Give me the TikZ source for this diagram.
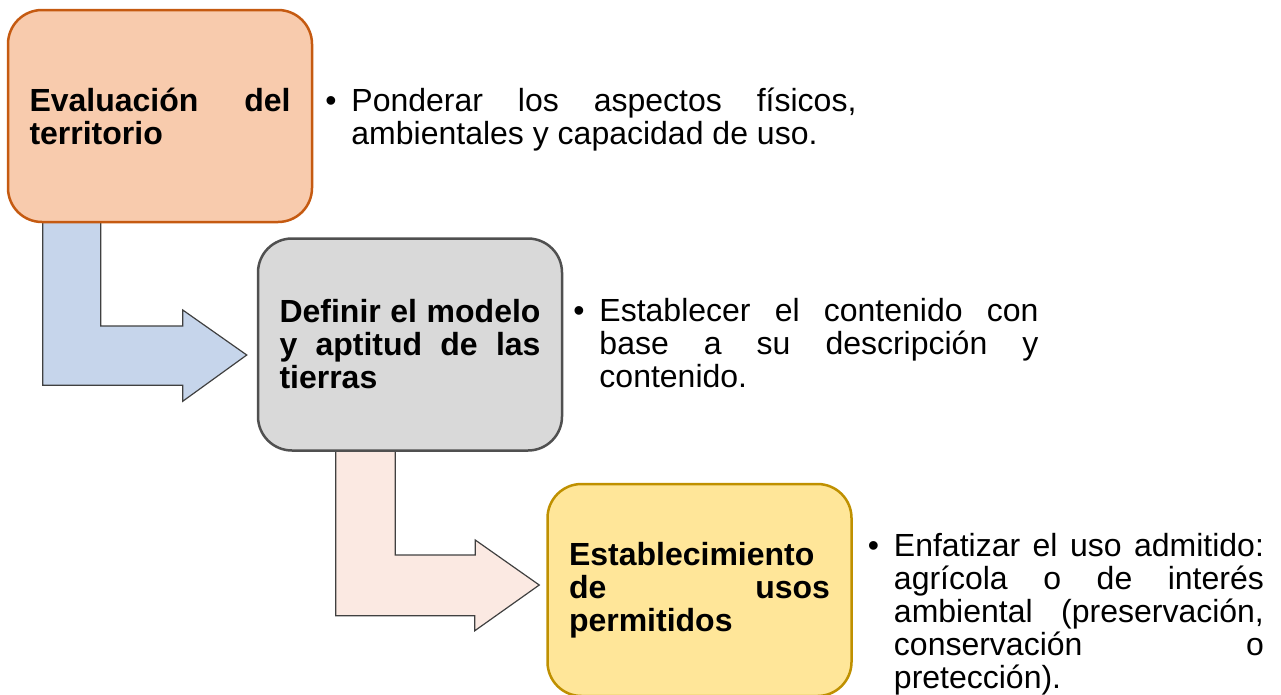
\documentclass[tikz,border=0pt]{standalone}
\usepackage{fontspec}
\setmainfont{Liberation Sans}
\usepackage{xcolor}
\usepackage{tikz}
\usetikzlibrary{calc,positioning,backgrounds}

\definecolor{peachfill}{HTML}{F8CBAD}
\definecolor{peachline}{HTML}{C55A11}
\definecolor{grayfill}{HTML}{D9D9D9}
\definecolor{grayline}{HTML}{505050}
\definecolor{goldfill}{HTML}{FFE699}
\definecolor{goldline}{HTML}{BF9000}
\definecolor{arrowblue}{HTML}{C6D5EB}
\definecolor{arrowpink}{HTML}{FBE9E2}
\definecolor{arrowline}{HTML}{404040}

\tolerance=10000
\hyphenpenalty=10000
\newcommand{\bulletlead}{\noindent\hangindent=26pt\hangafter=1\makebox[26pt][l]{\textbullet}}

\begin{document}
\begin{tikzpicture}[x=1pt,y=-1pt,
    stagebox/.style={rounded corners=34pt, line width=2.5pt, minimum height=212pt,
        text width=261pt, inner xsep=21.5pt, align=justify,
        font=\fontsize{32}{33}\selectfont\bfseries},
    notetext/.style={inner sep=0pt, anchor=west, align=justify,
        font=\fontsize{32}{33}\selectfont},
    bentarrow/.style={draw=arrowline, line width=1.2pt, line join=miter}]
    \useasboundingbox (0,0) rectangle (1281,694);

    % stages
    \node[stagebox, fill=peachfill, draw=peachline] (eval) at (160,116)
        {Evaluación del\linebreak territorio};
    \node[stagebox, fill=grayfill, draw=grayline] (model) at (410,344.5)
        {Definir el modelo\linebreak y aptitud de las\linebreak tierras};
    \node[stagebox, fill=goldfill, draw=goldline] (usos) at (699.5,590)
        {Establecimiento\linebreak de usos\linebreak permitidos};

    % bent arrows, behind the boxes
    \begin{scope}[on background layer]
    \draw[bentarrow, fill=arrowblue] ($(eval.south west)+(36,-4)$) -- ++(0,166) -- ++(140,0) -- ++(0,16)
        -- ($(model.west)+(-10,10.5)$) -- ++(-64,-45) -- ++(0,16) -- ++(-82,0) -- ++(0,-108) -- cycle;
    \draw[bentarrow, fill=arrowpink] ($(model.south west)+(79,-4)$) -- ++(0,168) -- ++(139,0) -- ++(0,15)
        -- ($(usos.west)+(-7,-5)$) -- ++(-64,-45) -- ++(0,15) -- ++(-80,0) -- ++(0,-109) -- cycle;
    \end{scope}

    % notes
    \node[notetext, text width=531pt] (evalnote) at ($(eval.east)+(12,3.5)$)
        {\bulletlead Ponderar los aspectos físicos,\linebreak ambientales y capacidad de uso.\par};
    \node[notetext, text width=465pt] (modelnote) at ($(model.east)+(10,-1)$)
        {\bulletlead Establecer el contenido con\linebreak base a su descripción y\linebreak contenido.\par};
    \node[notetext, text width=396pt] (usosnote) at ($(usos.east)+(15,24)$)
        {\bulletlead Enfatizar el uso admitido:\linebreak agrícola o de interés\linebreak ambiental (preservación,\linebreak conservación o\linebreak pretección).\par};
\end{tikzpicture}
\end{document}
